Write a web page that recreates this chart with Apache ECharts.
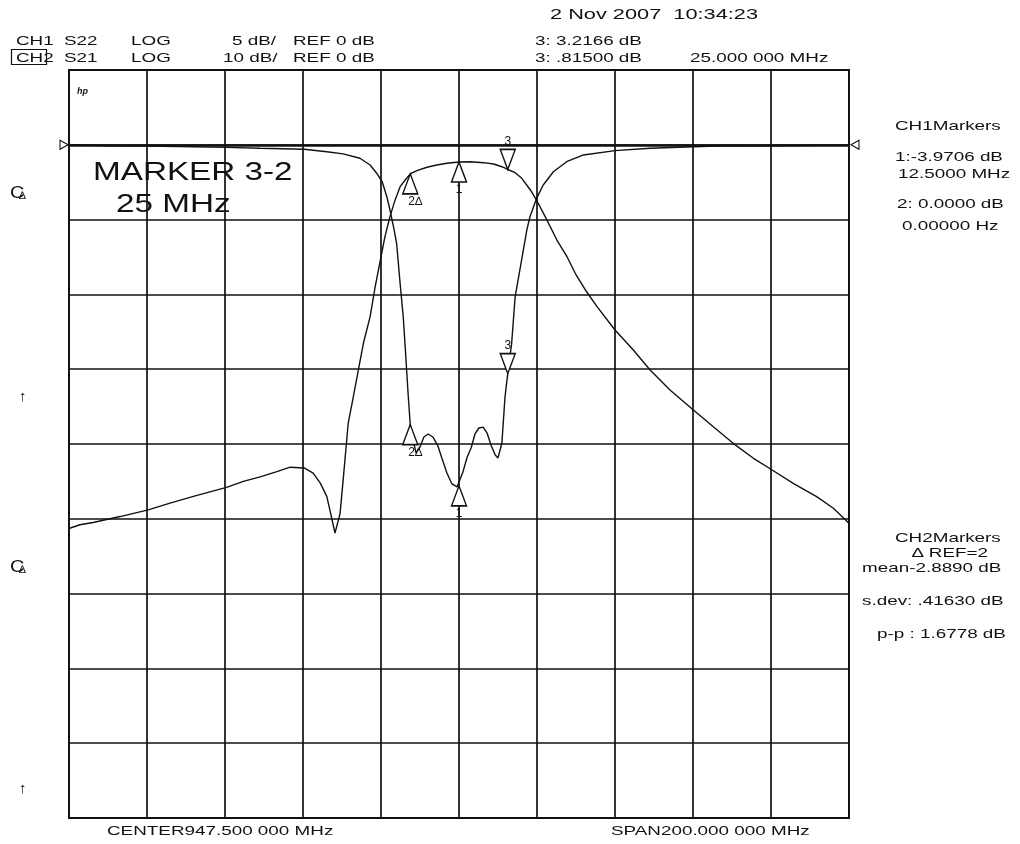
<!DOCTYPE html>
<html>
<head>
<meta charset="utf-8">
<title>S21 / S22 filter plot</title>
<script src="https://cdn.jsdelivr.net/npm/echarts@6/dist/echarts.min.js"></script>
<style>
  html, body { margin: 0; padding: 0; background: #fff; }
  #chart { width: 1020px; height: 844px; }
</style>
</head>
<body>
<div id="chart"></div>
<script>
// analyser sweep
const centerMHz = 947.5;
const spanMHz = 200;

// CH1  S22, LOG 5 dB/div, REF 0 dB  (frequency in MHz, level in dB)
const s22Freq = [847.5, 858.0, 867.8, 879.4, 887.9, 896.5, 907.8, 913.6, 917.8, 922.1,
  924.7, 926.4, 927.8, 929.0, 929.8, 930.7, 931.5, 932.4, 933.2, 933.7,
  934.5, 935.0, 935.7, 936.5, 937.5, 938.5, 939.6, 940.8, 942.1, 943.1,
  944.4, 945.7, 947.0, 947.5, 948.5, 949.6, 950.6, 951.6, 952.6, 953.7,
  954.7, 955.7, 956.8, 957.5, 958.5, 959.3, 960.0, 961.0, 961.9, 963.1,
  964.9, 965.7, 967.4, 969.1, 971.7, 975.1, 979.4, 987.5, 996.5, 1007.6,
  1013.6, 1027.8, 1047.5];
const s22Db = [0.0, -0.06, -0.08, -0.13, -0.17, -0.23, -0.30, -0.46, -0.61, -0.90,
  -1.35, -1.90, -2.47, -3.47, -4.36, -5.47, -6.58, -9.26, -11.49, -13.50,
  -16.84, -18.7, -19.74, -20.60, -20.20, -19.53, -19.33, -19.53, -20.13, -20.93,
  -21.94, -22.67, -22.87, -22.8, -21.87, -20.87, -20.27, -19.33, -18.93, -18.87,
  -19.27, -20.07, -20.73, -20.93, -19.93, -16.84, -15.3, -13.27, -10.15, -8.37,
  -5.69, -4.81, -3.58, -2.69, -1.80, -1.13, -0.68, -0.39, -0.23, -0.13,
  -0.08, -0.06, -0.02];

// CH2  S21, LOG 10 dB/div, REF 0 dB
const s21Freq = [847.5, 850.3, 853.7, 860.6, 867.8, 873.4, 879.4, 887.9, 892.2, 896.5,
  900.8, 904.2, 907.8, 910.1, 911.9, 913.6, 914.6, 915.7, 917.0, 917.8,
  919.1, 920.4, 921.7, 923.0, 924.7, 926.0, 927.2, 928.5, 929.8, 931.1,
  932.4, 933.7, 935.0, 936.7, 939.3, 941.8, 944.4, 947.5, 950.4, 953.8,
  956.4, 958.5, 960.0, 961.9, 963.6, 965.8, 967.6, 969.6, 972.6, 975.2,
  977.3, 979.9, 982.9, 987.5, 992.2, 996.5, 1001.6, 1007.6, 1012.7, 1017.8,
  1023.0, 1027.8, 1033.2, 1039.2, 1043.5, 1047.5];
const s21Db = [-51.3, -50.8, -50.5, -49.7, -48.8, -47.9, -47.0, -45.8, -45.0, -44.4,
  -43.7, -43.1, -43.2, -43.9, -45.2, -47.0, -49.3, -51.9, -49.3, -44.8,
  -37.2, -33.7, -30.1, -26.5, -23.0, -19.0, -15.8, -12.3, -9.6, -7.4,
  -5.6, -4.7, -3.9, -3.46, -3.0, -2.7, -2.47, -2.3, -2.26, -2.39,
  -2.57, -2.93, -3.3, -3.73, -4.48, -6.04, -7.61, -9.61, -12.73, -14.96,
  -17.18, -19.41, -21.64, -24.76, -27.43, -30.1, -32.78, -35.45, -37.69, -39.91,
  -41.91, -43.48, -45.26, -47.04, -48.59, -50.6];

// markers 2 (delta ref), 1 and 3
const markerFreq = [935.0, 947.5, 960.0];
const markerName = ['2\u2206', '1', '3'];
const markerDown = [false, false, true];
const markerS22 = [-18.7, -22.8, -15.3];
const markerS21 = [-3.9, -2.3, -3.3];

const FONT = '"Liberation Sans", Arial, sans-serif';
const SX = 1.45;   // the HP plotter font is drawn wide
const INK = '#111';

const toX = f => +(f - centerMHz).toFixed(2);
const pairs = (fs, vs) => fs.map((f, i) => [toX(f), vs[i]]);

const UP = 'path://M5,0 L10,13 L0,13 Z';
const DOWN = 'path://M0,0 L10,0 L5,13 Z';

function markerData(values) {
  return markerFreq.map((f, i) => ({
    value: [toX(f), values[i]],
    symbol: markerDown[i] ? DOWN : UP,
    symbolOffset: [0, markerDown[i] ? '-50%' : '50%'],
    label: {
      show: true,
      formatter: markerName[i],
      position: markerDown[i] ? 'top' : 'bottom',
      distance: 1,
      offset: markerName[i].length > 1 ? [5, 0] : [0, 0],
      fontFamily: FONT,
      fontSize: 12,
      color: INK
    }
  }));
}

function markerSeries(values, yIdx) {
  return {
    type: 'scatter',
    yAxisIndex: yIdx,
    data: markerData(values),
    symbolSize: [15, 20],
    itemStyle: { color: '#fff', borderColor: INK, borderWidth: 1.5, opacity: 1 },
    z: 5,
    silent: true
  };
}

function txt(x, y, text, size, sx, extra) {
  return Object.assign({
    type: 'text', x: x, y: y, scaleX: sx == null ? SX : sx, z: 20, silent: true,
    style: {
      text: text, font: (size || 13) + 'px ' + FONT, fill: INK,
      textAlign: 'left', align: 'left',
      textVerticalAlign: 'middle', verticalAlign: 'middle'
    }
  }, extra || {});
}

const headerTexts = [
  [550, 15, '2 Nov 2007  10:34:23', 15],
  [16, 41, 'CH1', 13], [64, 41, 'S22', 13], [131, 41, 'LOG', 13],
  [232, 41, '5 dB/', 13], [293, 41, 'REF 0 dB', 13], [535, 41, '3: 3.2166 dB', 13],
  [16, 58, 'CH2', 13], [64, 58, 'S21', 13], [131, 58, 'LOG', 13],
  [223, 58, '10 dB/', 13], [293, 58, 'REF 0 dB', 13], [535, 58, '3: .81500 dB', 13],
  [690, 58, '25.000 000 MHz', 13],
  [895, 126, 'CH1Markers', 13],
  [895, 157, '1:-3.9706 dB', 13],
  [898, 174, '12.5000 MHz', 13],
  [897, 204, '2: 0.0000 dB', 13],
  [902, 226, '0.00000 Hz', 13],
  [895, 538, 'CH2Markers', 13],
  [912, 553, '\u2206 REF=2', 13],
  [862, 568, 'mean-2.8890 dB', 13],
  [862, 601, 's.dev: .41630 dB', 13],
  [877, 634, 'p-p : 1.6778 dB', 13],
  [107, 831, 'CENTER947.500 000 MHz', 13],
  [611, 831, 'SPAN200.000 000 MHz', 13]
];

const graphics = headerTexts.map(t => txt(t[0], t[1], t[2], t[3]));
graphics.push(
  { type: 'rect', shape: { x: 11.5, y: 49.5, width: 35, height: 15 }, style: { fill: 'none', stroke: INK, lineWidth: 1.2 }, z: 20, silent: true },
  txt(93, 173, 'MARKER 3-2', 25, 1.33),
  txt(116, 205, '25 MHz', 25, 1.33),
  txt(77, 92, 'hp', 9, 1, { style: { text: 'hp', font: 'italic bold 9px ' + FONT, fill: INK, textVerticalAlign: 'middle', verticalAlign: 'middle' } }),
  txt(10, 194, 'C', 16, 1.25), txt(19, 196, '\u2206', 11, 1),
  txt(10, 568, 'C', 16, 1.25), txt(19, 570, '\u2206', 11, 1),
  txt(19, 397, '\u2191', 15, 1),
  txt(19, 789, '\u2191', 15, 1)
);

const chart = echarts.init(document.getElementById('chart'));

const option = {
  animation: false,
  backgroundColor: '#fff',
  grid: { left: 69, top: 70, width: 780, height: 748, show: true, borderColor: INK, borderWidth: 1.8, backgroundColor: 'transparent' },
  xAxis: {
    type: 'value', min: -spanMHz / 2, max: spanMHz / 2, interval: spanMHz / 10,
    axisLine: { show: false }, axisTick: { show: false }, axisLabel: { show: false },
    splitLine: { show: true, lineStyle: { color: INK, width: 1.7 } }
  },
  yAxis: [
    {
      type: 'value', min: -45, max: 5, interval: 5,
      axisLine: { show: false }, axisTick: { show: false }, axisLabel: { show: false },
      splitLine: { show: true, lineStyle: { color: INK, width: 1.7 } }
    },
    { type: 'value', min: -90, max: 10, interval: 10, show: false, splitLine: { show: false } }
  ],
  graphic: graphics,
  series: [
    {
      name: 'S22', type: 'line', yAxisIndex: 0, data: pairs(s22Freq, s22Db),
      showSymbol: false, symbol: 'none', lineStyle: { color: INK, width: 1.4 }, z: 3,
      markLine: {
        silent: true, symbol: 'none', label: { show: false },
        lineStyle: { color: INK, width: 2.6, type: 'solid' },
        data: [{ yAxis: 0 }]
      }
    },
    {
      name: 'S21', type: 'line', yAxisIndex: 1, data: pairs(s21Freq, s21Db),
      showSymbol: false, symbol: 'none', lineStyle: { color: INK, width: 1.4 }, z: 3
    },
    markerSeries(markerS21, 1),
    markerSeries(markerS22, 0),
    {
      // reference position arrows at both edges
      type: 'scatter', yAxisIndex: 0, clip: false, silent: true, z: 6,
      symbolSize: [8, 9],
      itemStyle: { color: '#fff', borderColor: INK, borderWidth: 1.1, opacity: 1 },
      data: [
        { value: [-spanMHz / 2, 0], symbol: 'path://M0,0 L9,5 L0,10 Z', symbolOffset: [-5, 0] },
        { value: [spanMHz / 2, 0], symbol: 'path://M9,0 L0,5 L9,10 Z', symbolOffset: [6, 0] }
      ]
    }
  ]
};

chart.setOption(option);
window.addEventListener('resize', () => chart.resize());
</script>
</body>
</html>
